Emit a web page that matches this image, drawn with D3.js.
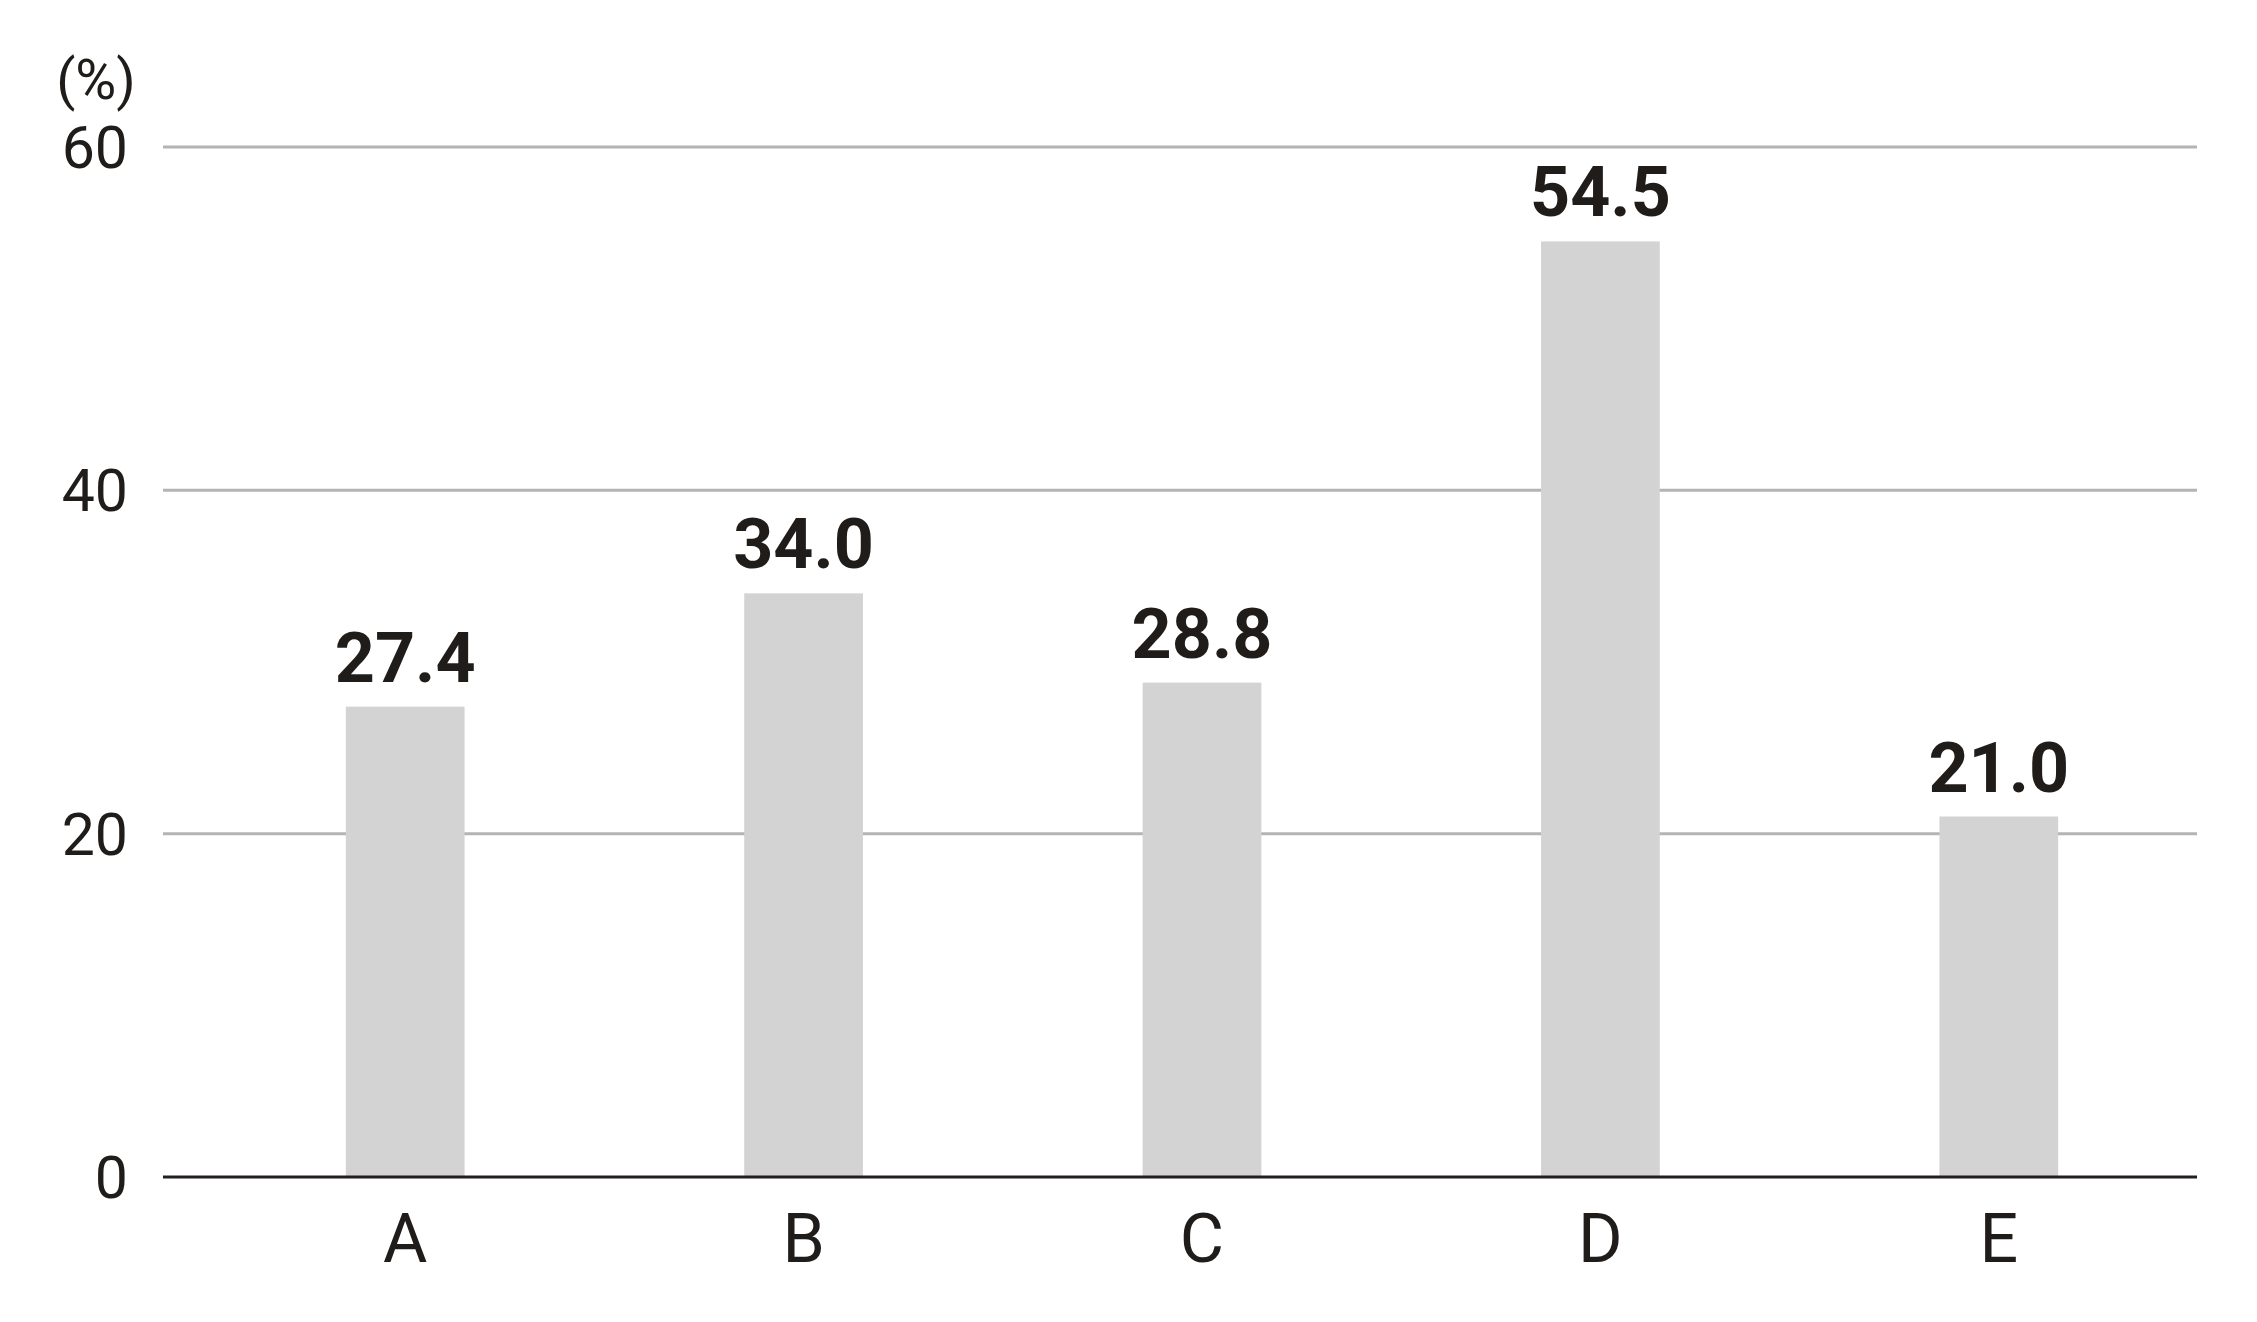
<!DOCTYPE html>
<html>
<head>
<meta charset="utf-8">
<script src="https://cdn.jsdelivr.net/npm/d3@7"></script>
<style>
  html, body { margin: 0; padding: 0; background: #fff; }
  svg { display: block; font-family: Roboto, "Noto Sans", sans-serif; }
</style>
</head>
<body>
<svg id="chart" width="2257" height="1322"></svg>
<script>
// chart data
const categories = ["A", "B", "C", "D", "E"];
const values = [27.4, 34.0, 28.8, 54.5, 21.0];
const yTicks = [0, 20, 40, 60];
const unitLabel = "(%)";

var svg = d3.select("#chart");

var x = d3.scaleBand()
  .domain(categories)
  .range([206, 2198])
  .paddingInner(0.702)
  .paddingOuter(0.351);

var y = d3.scaleLinear()
  .domain([0, 60])
  .range([1177, 147]);

var gridLeft = 163,
  gridRight = 2197;

// horizontal grid lines
svg.append("g")
  .selectAll("line")
  .data(yTicks.filter(d => d > 0))
  .join("line")
  .attr("x1", gridLeft)
  .attr("x2", gridRight)
  .attr("y1", d => y(d))
  .attr("y2", d => y(d))
  .attr("stroke", "#b4b4b4")
  .attr("stroke-width", 3);

// bars
svg.append("g")
  .selectAll("rect")
  .data(values)
  .join("rect")
  .attr("x", (d, i) => x(categories[i]))
  .attr("width", x.bandwidth())
  .attr("y", d => y(d))
  .attr("height", d => y(0) - y(d))
  .attr("fill", "#d3d3d4");

// baseline
svg.append("line")
  .attr("x1", gridLeft)
  .attr("x2", gridRight)
  .attr("y1", y(0))
  .attr("y2", y(0))
  .attr("stroke", "#231f20")
  .attr("stroke-width", 3);

// value labels
svg.append("g")
  .selectAll("text")
  .data(values)
  .join("text")
  .attr("x", (d, i) => x(categories[i]) + x.bandwidth() / 2)
  .attr("y", d => y(d) - 25)
  .attr("text-anchor", "middle")
  .attr("font-size", 70)
  .attr("font-weight", 700)
  .attr("fill", "#1f1c19")
  .text(d => d.toFixed(1));

// y tick labels
svg.append("g")
  .selectAll("text")
  .data(yTicks)
  .join("text")
  .attr("x", 128)
  .attr("y", d => y(d) + 21)
  .attr("text-anchor", "end")
  .attr("font-size", 59)
  .attr("fill", "#1f1c19")
  .text(d => d);

// unit
svg.append("text")
  .attr("x", 96)
  .attr("y", 99)
  .attr("text-anchor", "middle")
  .attr("font-size", 56)
  .attr("fill", "#1f1c19")
  .text(unitLabel);

// category labels
svg.append("g")
  .selectAll("text")
  .data(categories)
  .join("text")
  .attr("x", d => x(d) + x.bandwidth() / 2)
  .attr("y", 1262)
  .attr("text-anchor", "middle")
  .attr("font-size", 68)
  .attr("fill", "#1f1c19")
  .text(d => d);
</script>
</body>
</html>
